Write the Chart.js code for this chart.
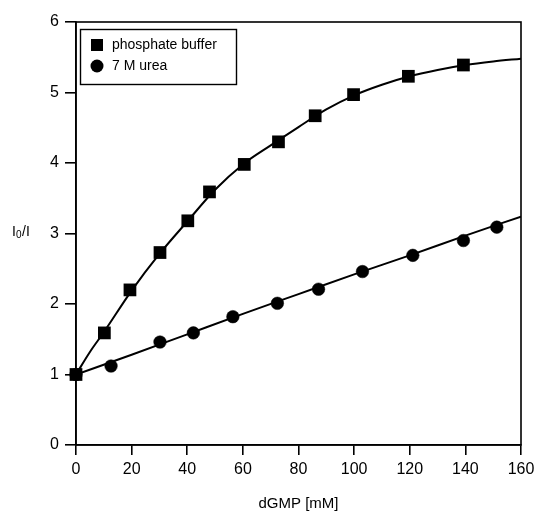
<!DOCTYPE html>
<html>
<head>
<meta charset="utf-8">
<script src="https://cdn.jsdelivr.net/npm/chart.js@4/dist/chart.umd.min.js"></script>
<style>
  html, body { margin: 0; padding: 0; background: #fff; }
  #wrap { width: 535px; height: 513px; }
</style>
</head>
<body>
<div id="wrap"><canvas id="chart" width="535" height="513"></canvas></div>
<script>
// measured points
const bufferX = [0, 10.2, 19.4, 30.2, 40.2, 48, 60.5, 72.8, 86, 99.8, 119.5, 139.3];
const bufferY = [1.0, 1.59, 2.20, 2.73, 3.18, 3.59, 3.98, 4.30, 4.67, 4.97, 5.23, 5.39];
const ureaX = [0, 12.6, 30.2, 42.2, 56.4, 72.4, 87.2, 103, 121.1, 139.3, 151.3];
const ureaY = [1.0, 1.12, 1.46, 1.59, 1.82, 2.01, 2.21, 2.46, 2.69, 2.90, 3.09];

// fitted curves
const bufferFitX = [0, 5, 10, 20, 30, 40, 50, 60, 70, 80, 90, 100, 110, 120, 130, 140, 150, 160];
const bufferFitY = [1.0, 1.32, 1.60, 2.19, 2.71, 3.17, 3.62, 3.98, 4.25, 4.51, 4.76, 4.96, 5.11, 5.23, 5.32, 5.39, 5.44, 5.48];
const ureaFitX = [0, 20, 40, 60, 80, 100, 120, 140, 160];
const ureaFitY = [1.0, 1.28, 1.57, 1.86, 2.14, 2.42, 2.69, 2.97, 3.24];

const xTicks = [0, 20, 40, 60, 80, 100, 120, 140, 160];
const yTicks = [0, 1, 2, 3, 4, 5, 6];

const FONT = '"Liberation Sans", Arial, sans-serif';
const pts = (xs, ys) => xs.map((x, i) => ({ x: x, y: ys[i] }));

// frame around the plot area
const frame = {
  id: 'frame',
  afterDatasetsDraw(chart) {
    const a = chart.chartArea, ctx = chart.ctx;
    ctx.save();
    ctx.strokeStyle = '#000';
    ctx.lineWidth = 1.6;
    ctx.strokeRect(a.left, a.top, a.right - a.left, a.bottom - a.top);
    ctx.restore();
  }
};

// boxed legend in the upper left and the I0/I axis label
const extras = {
  id: 'extras',
  afterDraw(chart) {
    const ctx = chart.ctx, y = chart.scales.y;
    ctx.save();
    ctx.fillStyle = '#000';
    ctx.strokeStyle = '#000';

    // y title: I0/I
    const ty = y.getPixelForValue(3) - 1;
    ctx.textBaseline = 'middle';
    ctx.textAlign = 'left';
    ctx.font = '14px ' + FONT;
    ctx.fillText('I', 12, ty);
    ctx.font = '10px ' + FONT;
    ctx.fillText('0', 16, ty + 3);
    ctx.font = '14px ' + FONT;
    ctx.fillText('/I', 22, ty);

    // legend box
    ctx.lineWidth = 1.4;
    ctx.strokeRect(80.5, 29.5, 156, 55);
    const items = [chart.data.datasets[0], chart.data.datasets[1]];
    ctx.font = '14px ' + FONT;
    items.forEach((ds, i) => {
      const cy = 45 + i * 21;
      if (ds.pointStyle === 'rect') {
        ctx.fillRect(91, cy - 6, 12, 12);
      } else {
        ctx.beginPath();
        ctx.arc(97, cy, 6.5, 0, Math.PI * 2);
        ctx.fill();
      }
      ctx.fillText(ds.label, 112, cy);
    });
    ctx.restore();
  }
};

new Chart(document.getElementById('chart'), {
  type: 'line',
  data: {
    datasets: [
      {
        label: 'phosphate buffer',
        data: pts(bufferX, bufferY),
        showLine: false,
        clip: false,
        pointStyle: 'rect',
        pointRadius: 9,
        pointBackgroundColor: '#000',
        pointBorderColor: '#000',
        pointBorderWidth: 0
      },
      {
        label: '7 M urea',
        data: pts(ureaX, ureaY),
        showLine: false,
        clip: false,
        pointStyle: 'circle',
        pointRadius: 6.3,
        pointBackgroundColor: '#000',
        pointBorderColor: '#000',
        pointBorderWidth: 0.5
      },
      {
        label: 'fit buffer',
        data: pts(bufferFitX, bufferFitY),
        borderColor: '#000',
        borderWidth: 2,
        pointRadius: 0,
        cubicInterpolationMode: 'monotone'
      },
      {
        label: 'fit urea',
        data: pts(ureaFitX, ureaFitY),
        borderColor: '#000',
        borderWidth: 2,
        pointRadius: 0,
        cubicInterpolationMode: 'monotone'
      }
    ]
  },
  options: {
    responsive: false,
    animation: false,
    events: [],
    layout: { padding: { left: 0, right: 14, top: 22, bottom: 0 } },
    plugins: { legend: { display: false }, tooltip: { enabled: false } },
    scales: {
      x: {
        type: 'linear',
        min: 0,
        max: 160,
        afterBuildTicks(s) { s.ticks = xTicks.map(v => ({ value: v })); },
        afterFit(s) { s.height = 68; s.paddingLeft = 0; s.paddingRight = 0; },
        grid: { drawOnChartArea: false, tickLength: 10, color: '#000', lineWidth: 1.6 },
        border: { color: '#000', width: 1.6 },
        ticks: { color: '#000', font: { family: FONT, size: 16 }, padding: 5, maxRotation: 0 },
        title: {
          display: true,
          text: 'dGMP [mM]',
          color: '#000',
          font: { family: FONT, size: 15 },
          padding: { top: 0, bottom: 0 }
        }
      },
      y: {
        type: 'linear',
        min: 0,
        max: 6,
        afterBuildTicks(s) { s.ticks = yTicks.map(v => ({ value: v })); },
        afterFit(s) { s.width = 76; s.paddingTop = 0; s.paddingBottom = 0; },
        grid: { drawOnChartArea: false, tickLength: 11, color: '#000', lineWidth: 1.6 },
        border: { color: '#000', width: 1.6 },
        ticks: { color: '#000', font: { family: FONT, size: 16 }, padding: 6 }
      }
    }
  },
  plugins: [frame, extras]
});
</script>
</body>
</html>
